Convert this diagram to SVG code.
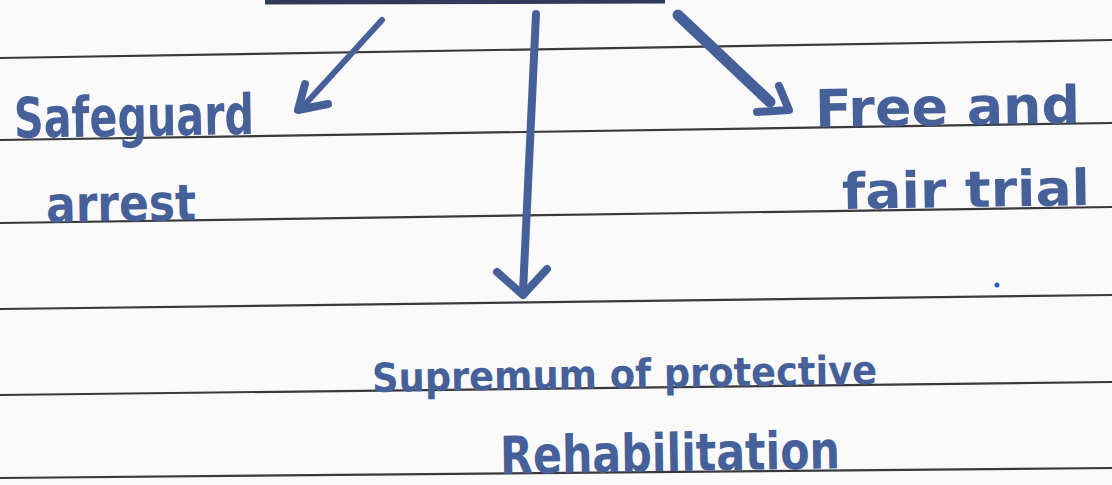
<svg xmlns="http://www.w3.org/2000/svg" width="1112" height="485" viewBox="0 0 1112 485">
<style>
.paper{fill:#fafafa}
.rule{stroke:#3a3a3e;stroke-width:2.2;fill:none}
.ink{fill:#46609a;font-family:"DejaVu Sans","Liberation Sans",sans-serif;font-weight:bold}
.shaft{stroke:#46609a;fill:none;stroke-linecap:round;stroke-linejoin:round}
.head{stroke:#46609a;fill:none;stroke-width:8;stroke-linecap:round;stroke-linejoin:round}
</style>
<rect class="paper" x="0" y="0" width="1112" height="485"/>
<g id="ruled-lines">
<line class="rule" x1="0" y1="58" x2="1112" y2="40"/>
<line class="rule" x1="0" y1="140" x2="1112" y2="123"/>
<line class="rule" x1="0" y1="223" x2="1112" y2="207"/>
<line class="rule" x1="0" y1="309" x2="1112" y2="295"/>
<line class="rule" x1="0" y1="395" x2="1112" y2="382"/>
<line class="rule" x1="0" y1="478" x2="1112" y2="468"/>
<line x1="265" y1="2" x2="665" y2="1" stroke="#2f3b58" stroke-width="5"/>
</g>
<g id="connectors">
<path class="shaft" stroke-width="6" d="M382 20 L300 110"/>
<path class="head" d="M305 84 L298 110 L328 104"/>
<path class="shaft" stroke-width="8" d="M536 14 Q530 150 523 292"/>
<path class="head" d="M497 272 L523 295 L547 269"/>
<path class="shaft" stroke-width="11" d="M678 15 L770 102"/>
<path class="head" d="M779 86 L789 110 L757 112"/>
</g>
<g id="node-safeguard">
<text class="ink" x="14" y="136" font-size="56" textLength="240" lengthAdjust="spacingAndGlyphs" transform="rotate(-0.9 130 120)">Safeguard</text>
<text class="ink" x="46" y="221" font-size="50" textLength="150" lengthAdjust="spacingAndGlyphs" transform="rotate(-0.9 120 205)">arrest</text>
</g>
<g id="node-fair-trial">
<text class="ink" x="815" y="125" font-size="52" textLength="265" lengthAdjust="spacingAndGlyphs" transform="rotate(-0.9 945 110)">Free and</text>
<text class="ink" x="842" y="207" font-size="50" textLength="248" lengthAdjust="spacingAndGlyphs" transform="rotate(-0.9 965 190)">fair trial</text>
</g>
<g id="node-rehabilitation">
<text class="ink" x="372" y="388" font-size="40" textLength="505" lengthAdjust="spacingAndGlyphs" transform="rotate(-0.9 620 375)">Supremum of protective</text>
<text class="ink" x="500" y="471" font-size="52" textLength="340" lengthAdjust="spacingAndGlyphs" transform="rotate(-0.9 670 455)">Rehabilitation</text>
</g>
<circle cx="997" cy="285" r="2.5" fill="#3355cc"/>
</svg>
